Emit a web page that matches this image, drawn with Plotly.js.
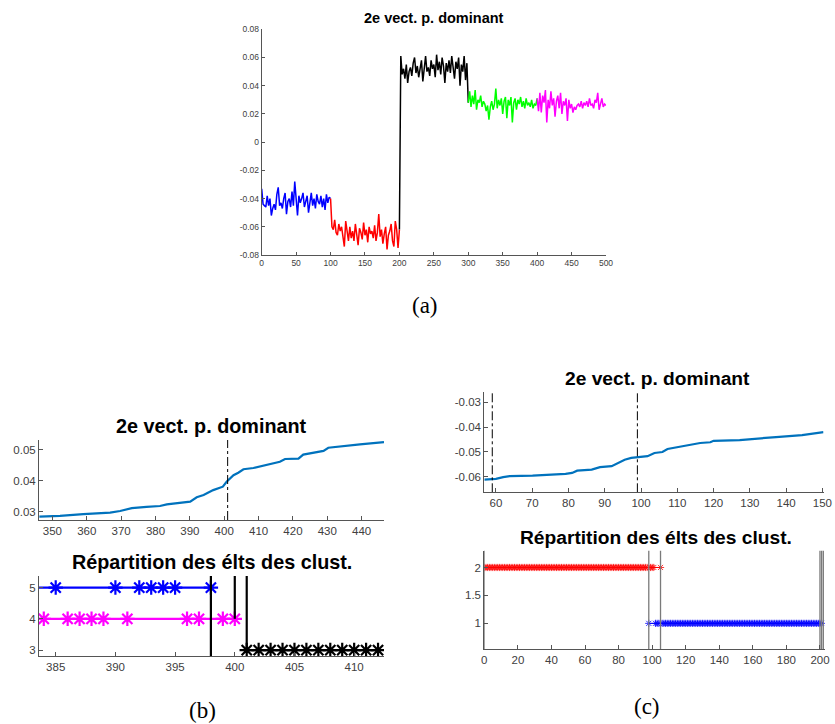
<!DOCTYPE html>
<html><head><meta charset="utf-8">
<script src="https://cdn.plot.ly/plotly-3.0.1.min.js"></script>
<style>html,body{margin:0;padding:0;background:#fff}#g{width:835px;height:724px}</style>
</head><body><div id="g"></div>
<script>
// ---------- (a) 2nd dominant eigenvector, 5 clusters ----------
const segStarts = [0, 100, 200, 300, 400];
const segColors = ['#0000FF', '#FF0000', '#000000', '#00FF00', '#FF00FF'];
const blueSeg = [-0.033,-0.044,-0.045,-0.046,-0.038,-0.045,-0.040,-0.052,-0.047,-0.044,-0.048,-0.037,-0.032,-0.045,-0.043,-0.047,-0.040,-0.036,-0.051,-0.042,-0.040,-0.046,-0.035,-0.045,-0.028,-0.041,-0.052,-0.038,-0.043,-0.040,-0.036,-0.046,-0.041,-0.038,-0.050,-0.043,-0.036,-0.045,-0.040,-0.047,-0.037,-0.042,-0.044,-0.038,-0.046,-0.040,-0.048,-0.037,-0.043,-0.039,-0.040];
const redSeg = [-0.040,-0.060,-0.062,-0.055,-0.064,-0.066,-0.058,-0.063,-0.060,-0.067,-0.074,-0.056,-0.065,-0.070,-0.060,-0.068,-0.063,-0.070,-0.058,-0.066,-0.073,-0.061,-0.064,-0.069,-0.057,-0.066,-0.062,-0.071,-0.060,-0.065,-0.063,-0.068,-0.059,-0.070,-0.064,-0.051,-0.067,-0.062,-0.072,-0.065,-0.060,-0.076,-0.066,-0.063,-0.058,-0.070,-0.074,-0.056,-0.062,-0.075,-0.062];
const blackSeg = [-0.062,0.061,0.048,0.052,0.045,0.055,0.042,0.050,0.053,0.047,0.056,0.060,0.049,0.054,0.046,0.051,0.058,0.043,0.055,0.061,0.050,0.053,0.047,0.058,0.052,0.055,0.046,0.062,0.051,0.057,0.048,0.060,0.054,0.042,0.056,0.050,0.058,0.049,0.061,0.053,0.045,0.057,0.052,0.060,0.040,0.055,0.050,0.061,0.044,0.056,0.028];
const greenSeg = [0.028,0.036,0.025,0.033,0.027,0.037,0.023,0.030,0.028,0.033,0.025,0.029,0.027,0.022,0.026,0.016,0.025,0.029,0.023,0.027,0.038,0.024,0.030,0.026,0.031,0.020,0.029,0.032,0.017,0.030,0.026,0.032,0.014,0.028,0.031,0.023,0.030,0.027,0.032,0.025,0.029,0.024,0.031,0.026,0.028,0.025,0.030,0.024,0.027,0.026,0.031];
const magentaSeg = [0.031,0.022,0.035,0.021,0.033,0.028,0.037,0.014,0.030,0.024,0.036,0.026,0.031,0.018,0.029,0.033,0.024,0.035,0.020,0.029,0.026,0.031,0.015,0.030,0.024,0.027,0.021,0.025,0.023,0.026,0.027,0.025,0.029,0.024,0.028,0.026,0.029,0.025,0.031,0.026,0.027,0.024,0.030,0.028,0.035,0.023,0.027,0.031,0.025,0.027,0.026];
const aXTicks = [0,50,100,150,200,250,300,350,400,450,500];
const aYTicks = [-0.08,-0.06,-0.04,-0.02,0,0.02,0.04,0.06,0.08];
const aYTickText = ['-0.08','-0.06','-0.04','-0.02','0','0.02','0.04','0.06','0.08'];

// ---------- (b) zoom near 400 ----------
const bTopX = [346.2,352.2,359,366.8,369.7,373.1,377.4,381.3,383.3,386.2,390.1,392,394,396.8,399.6,400.7,402.7,404.1,405.6,408.5,412.4,416.2,417.7,421.6,423,425.9,428.9,430.3,435.6,439.5,446.5];
const bTopY = [0.0285,0.0287,0.0293,0.0298,0.0303,0.0312,0.0316,0.0319,0.0324,0.0328,0.0333,0.0347,0.0354,0.0370,0.0381,0.0397,0.0418,0.0426,0.0437,0.0441,0.0450,0.0461,0.0470,0.0471,0.0484,0.0489,0.0496,0.0506,0.0511,0.0517,0.0524];
const bTopCut = [401];
const bTopXTicks = [350,360,370,380,390,400,410,420,430,440];
const bTopYTicks = [0.03,0.04,0.05];

const bClusterY = [5, 4, 3];
const bClusterColors = ['#0000FF', '#FF00FF', '#000000'];
const bClusterMembers = [
  [385,390,392,393,394,395,398],
  [384,386,387,388,389,391,396,397,399,400],
  [401,402,403,404,405,406,407,408,409,410,411,412]
];
const bClusterLineSpan = [[380,398],[380,400],[401,412]];
const bBoundX = [398, 400, 401];
const bBoundYFrom = [2.8, 4, 3];
const bBotXTicks = [385,390,395,400,405,410];
const bBotYTicks = [3,4,5];

// ---------- (c) zoom near 100 ----------
const cTopX = [56.8,60,62,63.8,70.1,75.6,79.2,81,82.4,86.4,88.7,91.9,93.7,95.5,97.3,99.1,101.8,103.7,105.9,107.3,110,112.7,115.4,116.3,119.1,120,127.2,130.8,137.2,144.4,150.3];
const cTopY = [-0.0611,-0.0608,-0.0601,-0.0597,-0.0595,-0.0591,-0.0588,-0.0584,-0.0575,-0.0571,-0.0561,-0.0557,-0.0544,-0.0531,-0.0524,-0.0520,-0.0517,-0.0504,-0.0500,-0.0488,-0.0480,-0.0475,-0.0467,-0.0464,-0.0461,-0.0455,-0.0452,-0.0447,-0.0440,-0.0432,-0.0420];
const cTopCuts = [59, 99];
const cTopXTicks = [60,70,80,90,100,110,120,130,140,150];
const cTopYTicks = [-0.06,-0.05,-0.04,-0.03];
const cTopYTickText = ['-0.06','-0.05','-0.04','-0.03'];

const cClusterY = [2, 1];
const cClusterColors = ['#FF0000', '#0000FF'];
const cClusterRuns = [
  [[0,97],[99,101],[105,105]],
  [[98,98],[102,104],[106,201]]
];
const cBoundX = [0, 98, 105, 200, 201, 202];
const cBotXTicks = [0,20,40,60,80,100,120,140,160,180,200];
const cBotYTicks = [1,1.5,2];

const captions = ['(a)', '(b)', '(c)'];

// ---------- build ----------
const W = 835, H = 724;
const px = v => v / W;
const py = v => 1 - v / H;
const traces = [];
const segData = [blueSeg, redSeg, blackSeg, greenSeg, magentaSeg];
segData.forEach((s, k) => {
  const step = 100 / (s.length - 1);
  traces.push({x: s.map((_, i) => segStarts[k] + i * step), y: s, mode: 'lines',
    line: {color: segColors[k], width: 1.5}, xaxis: 'x', yaxis: 'y', hoverinfo: 'skip'});
});
// (b) top
traces.push({x: bTopX, y: bTopY, mode: 'lines', line: {color: '#0072BD', width: 2.2}, xaxis: 'x2', yaxis: 'y2'});
bTopCut.forEach(c => traces.push({x: [c, c], y: [0.0274, 0.0531], mode: 'lines',
  line: {color: '#000', width: 1, dash: 'dashdot'}, xaxis: 'x2', yaxis: 'y2'}));
// (b) bottom
bClusterMembers.forEach((m, k) => {
  traces.push({x: bClusterLineSpan[k], y: [bClusterY[k], bClusterY[k]], mode: 'lines',
    line: {color: bClusterColors[k], width: 2.2}, xaxis: 'x3', yaxis: 'y3'});
  traces.push({x: m, y: m.map(() => bClusterY[k]), mode: 'markers',
    marker: {symbol: 'asterisk-open', size: 12, color: bClusterColors[k], line: {color: bClusterColors[k], width: 2.2}},
    xaxis: 'x3', yaxis: 'y3'});
});
bBoundX.forEach((b, k) => traces.push({x: [b, b], y: [bBoundYFrom[k], 5.4], mode: 'lines',
  line: {color: '#000', width: 2.2}, xaxis: 'x3', yaxis: 'y3'}));
// (c) top
traces.push({x: cTopX, y: cTopY, mode: 'lines', line: {color: '#0072BD', width: 2.2}, xaxis: 'x4', yaxis: 'y4'});
cTopCuts.forEach(c => traces.push({x: [c, c], y: [-0.0662, -0.0259], mode: 'lines',
  line: {color: '#000', width: 1, dash: 'dashdot'}, xaxis: 'x4', yaxis: 'y4'}));
// (c) bottom
cClusterRuns.forEach((runs, k) => {
  const xs = [];
  runs.forEach(r => { for (let v = r[0]; v <= r[1]; v++) xs.push(v); });
  traces.push({x: [xs[0], xs[xs.length - 1]], y: [cClusterY[k], cClusterY[k]], mode: 'lines',
    line: {color: cClusterColors[k], width: 1}, xaxis: 'x5', yaxis: 'y5'});
  traces.push({x: xs, y: xs.map(() => cClusterY[k]), mode: 'markers',
    marker: {symbol: 'asterisk-open', size: 6, color: cClusterColors[k], line: {color: cClusterColors[k], width: 0.8}},
    xaxis: 'x5', yaxis: 'y5'});
});
cBoundX.forEach(b => traces.push({x: [b, b], y: [0.5, 2.35], mode: 'lines',
  line: {color: '#7a7a7a', width: 1.3}, xaxis: 'x5', yaxis: 'y5'}));

const tickFont = s => ({family: 'Liberation Sans, Arial, sans-serif', size: s, color: '#404040'});
function ax(domain, range, tickvals, ticktext, fs, anchor, tl) {
  const o = {domain, range, tickvals, showgrid: false, zeroline: false, showline: true,
    linecolor: '#555', linewidth: 1, ticks: 'inside', ticklen: tl, tickwidth: 1, tickcolor: '#555',
    tickfont: tickFont(fs), anchor, fixedrange: true, mirror: false, ticklabeloverflow: 'allow'};
  if (ticktext) o.ticktext = ticktext;
  return o;
}
const layout = {
  width: W, height: H, margin: {l: 0, r: 0, t: 0, b: 0}, showlegend: false,
  paper_bgcolor: '#fff', plot_bgcolor: '#fff',
  xaxis: ax([px(261.7), px(606)], [0, 500], aXTicks, null, 8.5, 'y', 3),
  yaxis: ax([py(255), py(29.3)], [-0.08, 0.08], aYTicks, aYTickText, 8.5, 'x', 3),
  xaxis2: ax([px(39), px(384)], [346.1, 446.5], bTopXTicks, null, 11.5, 'y2', 4),
  yaxis2: ax([py(520), py(440)], [0.0274, 0.0531], bTopYTicks, null, 11.5, 'x2', 4),
  xaxis3: ax([px(39), px(384)], [383.6, 412.5], bBotXTicks, null, 11.5, 'y3', 4),
  yaxis3: ax([py(656), py(576)], [2.81, 5.37], bBotYTicks, null, 11.5, 'x3', 4),
  xaxis4: ax([px(484.3), px(823.5)], [56.8, 150.3], cTopXTicks, null, 11.5, 'y4', 4),
  yaxis4: ax([py(492.3), py(392)], [-0.0662, -0.0259], cTopYTicks, cTopYTickText, 11.5, 'x4', 4),
  xaxis5: ax([px(484.3), px(825)], [0, 203], cBotXTicks, null, 11.5, 'y5', 4),
  yaxis5: ax([py(649.3), py(550.7)], [0.536, 2.3], cBotYTicks, null, 11.5, 'x5', 4),
  annotations: []
};
const titleFont = s => ({family: 'Liberation Sans, Arial, sans-serif', size: s, color: '#000', weight: 'bold'});
[['2e vect. p. dominant', 434, 18, 14.5],
 ['2e vect. p. dominant', 211.5, 426, 19.8],
 ['Répartition des élts des clust.', 211.8, 562, 19.8],
 ['2e vect. p. dominant', 657, 378, 19.2],
 ['Répartition des élts des clust.', 656, 537, 19.2]].forEach(t => layout.annotations.push({
  text: '<b>' + t[0] + '</b>', x: px(t[1]), y: py(t[2]), xref: 'paper', yref: 'paper',
  xanchor: 'center', yanchor: 'middle', showarrow: false, font: titleFont(t[3])}));
[[425, 305], [202, 710], [647, 706]].forEach((p, i) => layout.annotations.push({
  text: captions[i], x: px(p[0]), y: py(p[1]), xref: 'paper', yref: 'paper',
  xanchor: 'center', yanchor: 'middle', showarrow: false,
  font: {family: 'Liberation Serif, DejaVu Serif, serif', size: 23, color: '#000'}}));

Plotly.newPlot('g', traces, layout, {staticPlot: true, displayModeBar: false});
</script></body></html>
